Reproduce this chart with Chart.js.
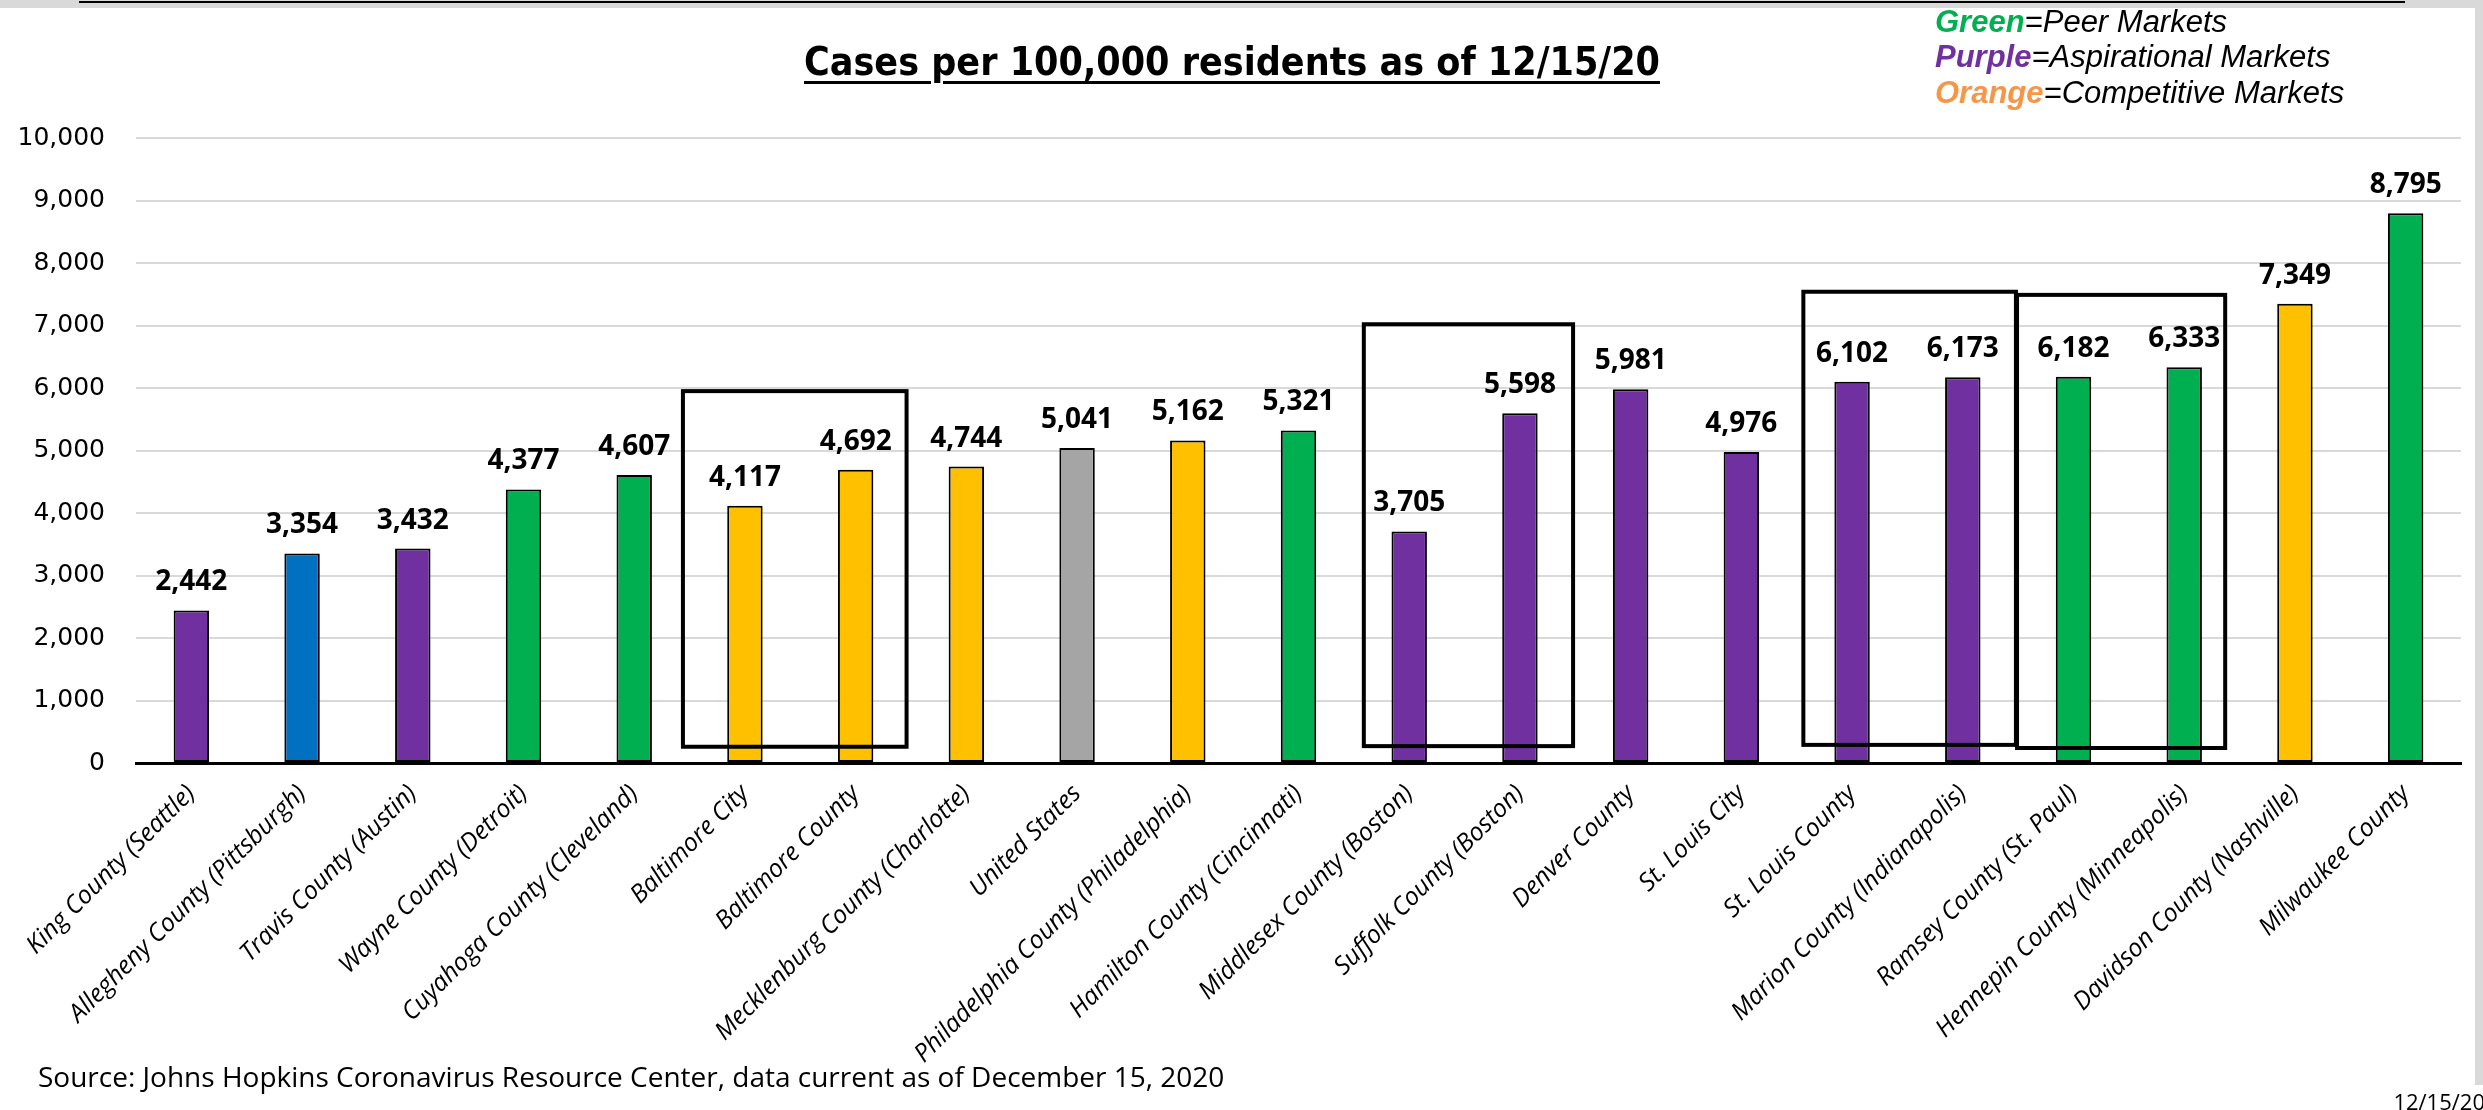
<!DOCTYPE html>
<html>
<head>
<meta charset="utf-8">
<title>Cases per 100,000 residents</title>
<script src="https://cdn.jsdelivr.net/npm/chart.js@4.4.1/dist/chart.umd.min.js"></script>
<style>
    body { margin: 0; width: 2483px; height: 1110px; overflow: hidden; background: #fff; position: relative; }
    #topBand { position: absolute; left: 0; top: 0; width: 2483px; height: 8px; background: #d9d9d9; }
    #topLine { position: absolute; left: 79px; top: 1px; width: 2326px; height: 2px; background: #000; }
    #rightBand { position: absolute; left: 2475px; top: 0; width: 8px; height: 1085px; background: #d9d9d9; }
    #chartWrap { position: absolute; left: 0; top: 0; width: 2483px; height: 1110px; }
    #title { position: absolute; left: 0; top: 42px; width: 2464px; text-align: center;
             font: bold 39px/39px 'Liberation Sans Narrow', 'DejaVu Sans Condensed', 'Open Sans', sans-serif;
             text-decoration: underline; text-decoration-thickness: 3px; text-underline-offset: 6px; color: #000; }
    .legend { position: absolute; left: 1935px; font: italic 31px/31px 'Liberation Sans', Arial, sans-serif; color: #000; white-space: nowrap; }
    .legend b { font-weight: bold; }
    #source { position: absolute; left: 38px; top: 1062px; font: 28px/28px 'Open Sans', sans-serif; color: #000; white-space: nowrap; }
    #stamp { position: absolute; right: -2px; top: 1090px; font: 22px/22px 'Open Sans', sans-serif; color: #000; }
</style>
</head>
<body>
<div id="topBand"></div>
<div id="topLine"></div>
<div id="rightBand"></div>
<div id="chartWrap"><canvas id="casesChart"></canvas></div>
<div id="title">Cases per 100,000 residents as of 12/15/20</div>
<div class="legend" style="top:6px"><b style="color:#00b050">Green</b>=Peer Markets</div>
<div class="legend" style="top:41px"><b style="color:#7030a0">Purple</b>=Aspirational Markets</div>
<div class="legend" style="top:77px"><b style="color:#f79646">Orange</b>=Competitive Markets</div>
<div id="source">Source: Johns Hopkins Coronavirus Resource Center, data current as of December 15, 2020</div>
<div id="stamp">12/15/20</div>

<script>
// Chart data
const regions = [
    'King County (Seattle)', 'Allegheny County (Pittsburgh)', 'Travis County (Austin)',
    'Wayne County (Detroit)', 'Cuyahoga County (Cleveland)', 'Baltimore City',
    'Baltimore County', 'Mecklenburg County (Charlotte)', 'United States',
    'Philadelphia County (Philadelphia)', 'Hamilton County (Cincinnati)',
    'Middlesex County (Boston)', 'Suffolk County (Boston)', 'Denver County',
    'St. Louis City', 'St. Louis County', 'Marion County (Indianapolis)',
    'Ramsey County (St. Paul)', 'Hennepin County (Minneapolis)',
    'Davidson County (Nashville)', 'Milwaukee County'
];
const casesPer100k = [
    2442, 3354, 3432, 4377, 4607, 4117, 4692, 4744, 5041, 5162, 5321,
    3705, 5598, 5981, 4976, 6102, 6173, 6182, 6333, 7349, 8795
];
const marketType = [
    'aspirational', 'home', 'aspirational', 'peer', 'peer', 'competitive',
    'competitive', 'competitive', 'national', 'competitive', 'peer',
    'aspirational', 'aspirational', 'aspirational', 'aspirational', 'aspirational',
    'aspirational', 'peer', 'peer', 'competitive', 'peer'
];
const yTicks = [0, 1000, 2000, 3000, 4000, 5000, 6000, 7000, 8000, 9000, 10000];

// Highlight boxes (category index range, value range)
const boxFrom = [4.44, 10.59, 14.56, 16.49];
const boxTo = [6.46, 12.48, 16.48, 18.37];
const boxTop = [5950, 7020, 7540, 7490];
const boxBottom = [260, 270, 290, 240];

const typeColors = {
    peer: '#00b050',
    aspirational: '#7030a0',
    competitive: '#ffc000',
    home: '#0070c0',
    national: '#a5a5a5'
};

function fmt(v) {
    return v.toLocaleString('en-US');
}

// Draws the outlined boxes and the value labels
const overlayPlugin = {
    id: 'overlay',
    afterDatasetsDraw(chart) {
        const ctx = chart.ctx;
        const x = chart.scales.x;
        const y = chart.scales.y;

        ctx.save();
        ctx.strokeStyle = '#000';
        ctx.lineWidth = 4;
        for (let i = 0; i < boxFrom.length; i++) {
            const left = x.getPixelForValue(boxFrom[i]);
            const right = x.getPixelForValue(boxTo[i]);
            const top = y.getPixelForValue(boxTop[i]);
            const bottom = y.getPixelForValue(boxBottom[i]);
            ctx.strokeRect(left, top, right - left, bottom - top);
        }

        ctx.font = "bold 28px 'Open Sans', sans-serif";
        ctx.fillStyle = '#000';
        ctx.textAlign = 'center';
        ctx.textBaseline = 'alphabetic';
        chart.getDatasetMeta(0).data.forEach((bar, i) => {
            ctx.fillText(fmt(casesPer100k[i]), bar.x, bar.y - 20);
        });
        ctx.restore();
    }
};

new Chart(document.getElementById('casesChart'), {
    type: 'bar',
    data: {
        labels: regions,
        datasets: [{
            data: casesPer100k,
            backgroundColor: marketType.map(t => typeColors[t]),
            borderColor: '#000',
            borderWidth: 2,
            borderSkipped: false,
            barPercentage: 0.32,
            categoryPercentage: 1
        }]
    },
    options: {
        responsive: true,
        maintainAspectRatio: false,
        animation: false,
        devicePixelRatio: 1,
        layout: {
            padding: { top: 138, right: 22, bottom: 0, left: 0 }
        },
        plugins: {
            legend: { display: false },
            tooltip: { enabled: false }
        },
        scales: {
            x: {
                grid: { display: false, drawTicks: false },
                border: { display: true, color: '#000', width: 3 },
                ticks: {
                    autoSkip: false,
                    maxRotation: 45,
                    minRotation: 45,
                    padding: 16,
                    color: '#000',
                    font: { family: "'Open Sans', sans-serif", size: 25, style: 'italic' }
                },
                afterFit: function(scale) {
                    scale.height = 347;
                }
            },
            y: {
                min: 0,
                max: 10000,
                afterBuildTicks: function(scale) {
                    scale.ticks = yTicks.map(v => ({ value: v }));
                },
                grid: { color: '#d9d9d9', lineWidth: 2, drawTicks: false },
                border: { display: false },
                ticks: {
                    padding: 31,
                    color: '#000',
                    font: { family: "'DejaVu Sans', sans-serif", size: 25 },
                    callback: function(value) {
                        return fmt(value);
                    }
                },
                afterFit: function(scale) {
                    scale.width = 136;
                }
            }
        }
    },
    plugins: [overlayPlugin]
});
</script>
</body>
</html>
